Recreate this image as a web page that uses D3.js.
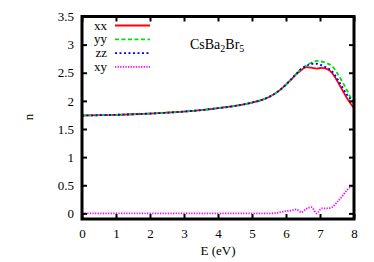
<!DOCTYPE html>
<html>
<head>
<meta charset="utf-8">
<script src="https://cdn.jsdelivr.net/npm/d3@7"></script>
<style>
  body { margin: 0; background: #fff; }
</style>
</head>
<body>
<div id="chart"></div>
<script>
// photon energy (eV) and refractive index components
const energy = [0, 0.5, 1, 1.5, 2, 2.5, 3, 3.5, 4, 4.5, 5, 5.25, 5.5, 5.75, 6, 6.15, 6.3, 6.45, 6.6, 6.75, 6.9, 7.05, 7.2, 7.35, 7.5, 7.65, 7.8, 8];
const nxx = [1.74, 1.745, 1.752, 1.762, 1.775, 1.79, 1.81, 1.835, 1.87, 1.91, 1.97, 2.01, 2.07, 2.16, 2.29, 2.38, 2.47, 2.55, 2.60, 2.59, 2.575, 2.585, 2.57, 2.50, 2.36, 2.20, 2.04, 1.87];
const nyy = [1.74, 1.745, 1.752, 1.762, 1.775, 1.79, 1.81, 1.835, 1.87, 1.91, 1.97, 2.01, 2.07, 2.16, 2.29, 2.38, 2.48, 2.57, 2.63, 2.68, 2.71, 2.70, 2.67, 2.62, 2.50, 2.35, 2.18, 1.93];
const nzz = [1.74, 1.745, 1.752, 1.762, 1.775, 1.79, 1.81, 1.835, 1.87, 1.91, 1.97, 2.01, 2.07, 2.16, 2.29, 2.38, 2.48, 2.57, 2.62, 2.66, 2.66, 2.63, 2.59, 2.53, 2.40, 2.25, 2.10, 1.98];
const nxy = [0, 0, 0, 0, 0, 0, 0, 0, 0, 0, 0, 0, 0, 0.01, 0.04, 0.05, 0.07, 0.02, 0.08, 0.11, 0.0, 0.09, 0.09, 0.11, 0.2, 0.3, 0.42, 0.5];

const xTicks = [0, 1, 2, 3, 4, 5, 6, 7, 8];
const yTicks = [0, 0.5, 1, 1.5, 2, 2.5, 3, 3.5];

const series = [
  { name: 'xx', values: nxx, color: '#ff0000', dash: null },
  { name: 'yy', values: nyy, color: '#00e000', dash: '4,2.5' },
  { name: 'zz', values: nzz, color: '#0000ff', dash: '2,2.5' },
  { name: 'xy', values: nxy, color: '#ff00ff', dash: '1.3,1.3' },
];

const serif = '"Liberation Serif", "DejaVu Serif", serif';
const width = 374;
const height = 262;
const plot = { left: 82, right: 354, top: 16.5, bottom: 219 };

const svg = d3.select('#chart').append('svg')
  .attr('width', width)
  .attr('height', height)
  .style('font-family', serif);

const x = d3.scaleLinear().domain([0, 8]).range([plot.left, plot.right]);
const y = d3.scaleLinear().domain([-0.1, 3.5]).range([plot.bottom, plot.top]);

// curves, drawn in gnuplot order so zz ends up on top
const line = d3.line()
  .x((d, i) => x(energy[i]))
  .y(d => y(d))
  .curve(d3.curveMonotoneX);

svg.append('g').selectAll('path')
  .data(series)
  .join('path')
  .attr('d', d => line(d.values))
  .attr('fill', 'none')
  .attr('stroke', d => d.color)
  .attr('stroke-width', 1.8)
  .attr('stroke-dasharray', d => d.dash);

// axes: ticks inward, mirrored on top and right
const axisB = d3.axisBottom(x).tickValues(xTicks).tickSize(-5).tickPadding(10).tickFormat(d3.format('d'));
const axisT = d3.axisTop(x).tickValues(xTicks).tickSize(-5).tickFormat('');
const axisL = d3.axisLeft(y).tickValues(yTicks).tickSize(-5).tickPadding(8).tickFormat(d => d);
const axisR = d3.axisRight(y).tickValues(yTicks).tickSize(-5).tickFormat('');

function styleAxis(g) {
  g.attr('font-family', null).style('font-family', serif);
  g.select('.domain').remove();
  g.selectAll('.tick line').attr('stroke', '#000').attr('stroke-width', 2);
  g.selectAll('.tick text').style('font-size', '13px').style('font-family', serif).attr('fill', '#000');
}

svg.append('g').attr('transform', `translate(0,${plot.bottom})`).call(axisB).call(styleAxis);
svg.append('g').attr('transform', `translate(0,${plot.top})`).call(axisT).call(styleAxis);
svg.append('g').attr('transform', `translate(${plot.left},0)`).call(axisL).call(styleAxis);
svg.append('g').attr('transform', `translate(${plot.right},0)`).call(axisR).call(styleAxis);

// frame
svg.append('rect')
  .attr('x', plot.left)
  .attr('y', plot.top)
  .attr('width', plot.right - plot.left)
  .attr('height', plot.bottom - plot.top)
  .attr('fill', 'none')
  .attr('stroke', '#000')
  .attr('stroke-width', 3);

// legend
const legend = svg.append('g').selectAll('g')
  .data(series)
  .join('g')
  .attr('transform', (d, i) => `translate(0,${25.5 + i * 13.8})`);

legend.append('text')
  .attr('x', 107)
  .attr('y', 4)
  .attr('text-anchor', 'end')
  .style('font-size', '13px')
  .text(d => d.name);

legend.append('line')
  .attr('x1', 115)
  .attr('x2', 150)
  .attr('stroke', d => d.color)
  .attr('stroke-width', 1.8)
  .attr('stroke-dasharray', d => d.dash);

// compound label
const label = svg.append('text')
  .attr('x', 190)
  .attr('y', 49)
  .style('font-size', '14px');
label.append('tspan').text('CsBa');
label.append('tspan').attr('dy', 3).style('font-size', '10px').text('2');
label.append('tspan').attr('dy', -3).text('Br');
label.append('tspan').attr('dy', 3).style('font-size', '10px').text('5');

// axis titles
svg.append('text')
  .attr('x', 218)
  .attr('y', 255)
  .attr('text-anchor', 'middle')
  .style('font-size', '13px')
  .text('E (eV)');

svg.append('text')
  .attr('transform', 'translate(33,117) rotate(-90)')
  .attr('text-anchor', 'middle')
  .style('font-size', '13px')
  .text('n');
</script>
</body>
</html>
